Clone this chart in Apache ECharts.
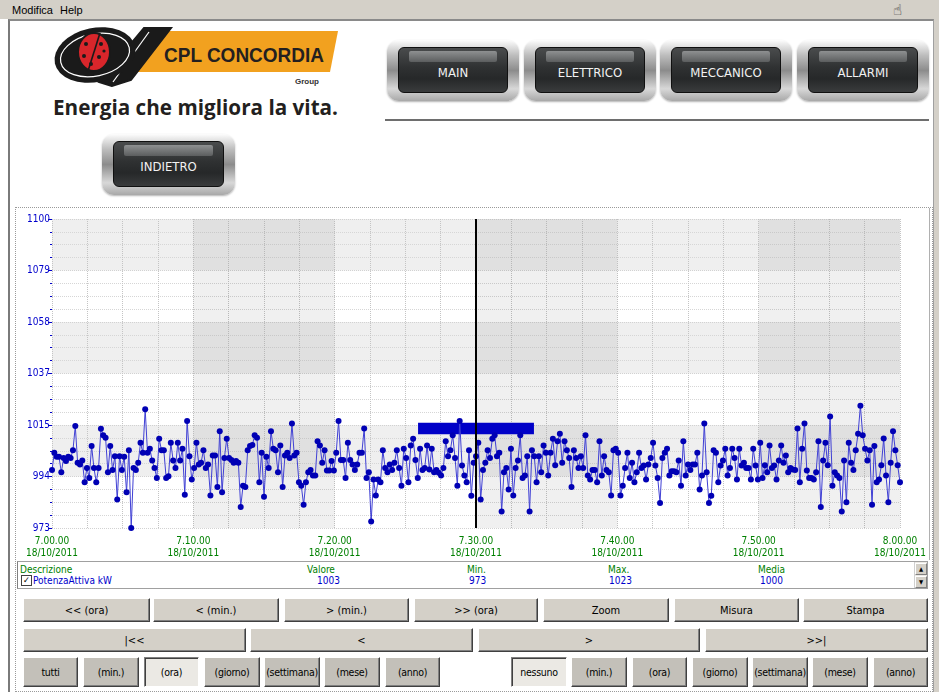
<!DOCTYPE html>
<html><head><meta charset="utf-8">
<script src="https://cdn.jsdelivr.net/npm/echarts@6/dist/echarts.min.js"></script>
<style>
html,body{margin:0;padding:0;}
body{width:939px;height:692px;position:relative;overflow:hidden;background:#ffffff;font-family:"DejaVu Sans Condensed","Liberation Sans Narrow","Liberation Sans",sans-serif;}
#menubar{position:absolute;left:0;top:0;width:939px;height:19px;background:#d4d0c8;font-size:11px;}
#menubar span{position:absolute;top:4px;color:#000;font-family:"Liberation Sans",sans-serif;font-size:11px;}
#frame{position:absolute;left:8px;top:19px;width:926px;height:673px;background:#fff;border-left:2px solid #7a7a7a;border-top:2px solid #8a8a8a;border-right:1px solid #a0a0a0;box-sizing:border-box;}
#rightstrip{position:absolute;left:934px;top:19px;width:5px;height:673px;background:#d4d0c8;}
.abs{position:absolute;}
.mbtn{position:absolute;border-radius:12px;background:linear-gradient(180deg,#fdfdfd 0%,#bdbdbd 25%,#8c8c8c 50%,#d8d8d8 80%,#a8a8a8 100%);box-shadow:0 1px 2px rgba(0,0,0,0.3);}
.mbtn .in{position:absolute;left:11px;right:11px;top:7px;bottom:8px;border-radius:6px;background:linear-gradient(180deg,#4a4c4d 0%,#2f3132 45%,#262829 70%,#3a3c3d 100%);border:1px solid #101010;}
.mbtn .hl{position:absolute;left:10px;right:10px;top:3px;height:11px;border-radius:2px;background:linear-gradient(180deg,#8e9091 0%,#5c5e5f 100%);}
.mbtn .tx{position:absolute;left:0;right:0;top:0;bottom:0;display:flex;align-items:center;justify-content:center;color:#f2f2f2;font-family:"DejaVu Sans Condensed","Liberation Sans",Arial,sans-serif;font-size:13px;padding-top:4px;}
.gbtn{position:absolute;box-sizing:border-box;background:#d4d0c8;border:1px solid;border-color:#ffffff #404040 #404040 #ffffff;box-shadow:inset -1px -1px 0 #808080;display:flex;align-items:center;justify-content:center;font-size:11px;color:#000;white-space:nowrap;}
.sbtn{background:#c3c0b9;font-size:10.5px;letter-spacing:-0.3px;}
.pbtn{background:#ebe9e4;border-color:#808080 #ffffff #ffffff #808080;box-shadow:inset 1px 1px 0 #404040;font-size:10.5px;letter-spacing:-0.3px;}
#chartpanel{position:absolute;left:15px;top:207px;width:918px;height:485px;border:1px dotted #9a9a9a;box-sizing:border-box;background:#fff;}
#chart{position:absolute;left:15px;top:208px;width:917px;height:352px;}
#table{position:absolute;left:17px;top:561px;width:911px;height:28px;border:1px solid #a0a0a0;border-left-color:#808080;box-sizing:border-box;background:#fff;font-size:10px;}
#table .h{position:absolute;top:2px;color:#008000;}
#table .v{position:absolute;top:13px;color:#0000cc;}
</style></head>
<body>
<div id="menubar"><span style="left:12px">Modifica</span><span style="left:60px">Help</span>
<span style="left:893px;top:1px;font-family:'DejaVu Sans',sans-serif;font-size:15px;color:#222">&#9757;</span></div>
<div id="frame"></div>
<div id="rightstrip"></div>

<svg class="abs" style="left:0;top:0" width="400" height="130" viewBox="0 0 400 130">
  <polygon points="146,31 338,31 330,72 136,72" fill="#f2a11f"/>
  <path d="M112,86 L99,82 L144,28 L171,28 L131,80 Z" fill="#1a1a1a" stroke="#1a1a1a" stroke-width="2"/>
  <path d="M113,82 L149,32" stroke="#ffffff" stroke-width="1.2" fill="none"/>
  <ellipse cx="95" cy="55" rx="41" ry="27" fill="#1a1a1a" transform="rotate(-12 95 55)"/>
  <ellipse cx="95" cy="55" rx="35" ry="21" fill="none" stroke="#ffffff" stroke-width="1.2" transform="rotate(-12 95 55)"/>
  <ellipse cx="94" cy="52" rx="16" ry="19" fill="#d9262b" stroke="#1a1a1a" stroke-width="2"/>
  <line x1="100" y1="33" x2="88" y2="71" stroke="#1a1a1a" stroke-width="1.6"/>
  <circle cx="86" cy="44" r="2" fill="#1a1a1a"/><circle cx="101" cy="44" r="2" fill="#1a1a1a"/>
  <circle cx="84" cy="56" r="2" fill="#1a1a1a"/><circle cx="99" cy="57" r="2" fill="#1a1a1a"/>
  <circle cx="91" cy="64" r="2" fill="#1a1a1a"/><circle cx="104" cy="51" r="1.6" fill="#1a1a1a"/>
  <text x="164" y="62" font-family="Liberation Sans, Arial, sans-serif" font-weight="bold" font-size="20" fill="#231f20" textLength="160" lengthAdjust="spacingAndGlyphs">CPL CONCORDIA</text>
  <text x="295" y="84" font-family="Liberation Sans, Arial, sans-serif" font-weight="bold" font-size="8" fill="#333">Group</text>
  <text x="53" y="115" font-family="Open Sans, sans-serif" font-weight="bold" font-size="22" fill="#231f20" textLength="285" lengthAdjust="spacingAndGlyphs">Energia che migliora la vita.</text>
</svg>

<div class="mbtn" style="left:387px;top:40px;width:132px;height:61px"><div class="in"><div class="hl"></div></div><div class="tx">MAIN</div></div>
<div class="mbtn" style="left:524px;top:40px;width:132px;height:61px"><div class="in"><div class="hl"></div></div><div class="tx">ELETTRICO</div></div>
<div class="mbtn" style="left:660px;top:40px;width:132px;height:61px"><div class="in"><div class="hl"></div></div><div class="tx">MECCANICO</div></div>
<div class="mbtn" style="left:797px;top:40px;width:132px;height:61px"><div class="in"><div class="hl"></div></div><div class="tx">ALLARMI</div></div>
<div class="abs" style="left:385px;top:119px;width:544px;height:2px;background:#6e6e6e"></div>
<div class="mbtn" style="left:102px;top:134px;width:133px;height:61px"><div class="in"><div class="hl"></div></div><div class="tx">INDIETRO</div></div>

<div id="chartpanel"></div>
<div class="abs" style="left:929px;top:208px;width:1px;height:352px;background:#b0b0b0"></div>
<div id="chart"></div>

<div id="table">
  <div class="h" style="left:2px">Descrizione</div>
  <div class="abs" style="left:3px;top:13px;width:9px;height:9px;border:1px solid #404040;background:#fff;font-size:9px;line-height:9px;text-align:center;color:#000">&#10003;</div>
  <div class="v" style="left:15px">PotenzaAttiva kW</div>
  <div class="h" style="left:289px">Valore</div><div class="v" style="left:299px">1003</div>
  <div class="h" style="left:449px">Min.</div><div class="v" style="left:451px">973</div>
  <div class="h" style="left:590px">Max.</div><div class="v" style="left:591px">1023</div>
  <div class="h" style="left:740px">Media</div><div class="v" style="left:742px">1000</div>
  <div class="abs" style="left:896px;top:0px;width:12px;height:26px;background:#ece9e4;border-left:1px solid #d0d0d0"></div>
  <div class="abs" style="left:897px;top:1px;width:10px;height:10px;background:#d4d0c8;border:1px solid #fff;border-right-color:#808080;border-bottom-color:#808080;font-size:6px;line-height:10px;text-align:center">&#9650;</div>
  <div class="abs" style="left:897px;top:14px;width:10px;height:10px;background:#d4d0c8;border:1px solid #fff;border-right-color:#808080;border-bottom-color:#808080;font-size:6px;line-height:10px;text-align:center">&#9660;</div>
</div>

<div class="gbtn" style="left:23px;top:598px;width:127px;height:24px">&lt;&lt; (ora)</div>
<div class="gbtn" style="left:153px;top:598px;width:126px;height:24px">&lt; (min.)</div>
<div class="gbtn" style="left:284px;top:598px;width:125px;height:24px">&gt; (min.)</div>
<div class="gbtn" style="left:414px;top:598px;width:124px;height:24px">&gt;&gt; (ora)</div>
<div class="gbtn" style="left:543px;top:598px;width:126px;height:24px">Zoom</div>
<div class="gbtn" style="left:674px;top:598px;width:125px;height:24px">Misura</div>
<div class="gbtn" style="left:803px;top:598px;width:125px;height:24px">Stampa</div>

<div class="gbtn" style="left:23px;top:628px;width:223px;height:24px">|&lt;&lt;</div>
<div class="gbtn" style="left:250px;top:628px;width:223px;height:24px">&lt;</div>
<div class="gbtn" style="left:478px;top:628px;width:222px;height:24px">&gt;</div>
<div class="gbtn" style="left:705px;top:628px;width:223px;height:24px">&gt;&gt;|</div>

<div class="gbtn sbtn" style="left:23px;top:657px;width:55px;height:30px">tutti</div>
<div class="gbtn sbtn" style="left:83px;top:657px;width:56px;height:30px">(min.)</div>
<div class="gbtn pbtn" style="left:144px;top:657px;width:55px;height:30px">(ora)</div>
<div class="gbtn sbtn" style="left:204px;top:657px;width:56px;height:30px">(giorno)</div>
<div class="gbtn sbtn" style="left:264px;top:657px;width:56px;height:30px">(settimana)</div>
<div class="gbtn sbtn" style="left:324px;top:657px;width:56px;height:30px">(mese)</div>
<div class="gbtn sbtn" style="left:385px;top:657px;width:55px;height:30px">(anno)</div>
<div class="gbtn pbtn" style="left:511px;top:657px;width:56px;height:30px">nessuno</div>
<div class="gbtn sbtn" style="left:571px;top:657px;width:56px;height:30px">(min.)</div>
<div class="gbtn sbtn" style="left:632px;top:657px;width:55px;height:30px">(ora)</div>
<div class="gbtn sbtn" style="left:692px;top:657px;width:56px;height:30px">(giorno)</div>
<div class="gbtn sbtn" style="left:752px;top:657px;width:56px;height:30px">(settimana)</div>
<div class="gbtn sbtn" style="left:812px;top:657px;width:56px;height:30px">(mese)</div>
<div class="gbtn sbtn" style="left:873px;top:657px;width:55px;height:30px">(anno)</div>

<script>
// ---- data (PotenzaAttiva kW, 18/10/2011, 7.00.00 -> 8.00.00) ----
const potenza_0700 = [996.8,1003.9,1002.3,1002.3,995.9,1001.8,1000.5,1002.3,1001.8,1005.0,1014.9,999.8,999.1,1000.7,991.8,997.7,993.6,1006.7,997.7,991.8,997.7,1013.8,1011.1,1010.1,995.9,1006.7,996.8,1002.5,984.7,1002.5,996.8,1002.3,987.7,1005.0,973.0,997.7,996.8,999.8,1008.0,1003.9,1021.8,1003.9,1005.6,1000.7,997.7,993.6,1009.7,1005.0,1005.0,993.6,994.3,1008.0,1000.7,997.7,1008.0,1000.7,1005.6,986.7,1017.0,1002.5];
const potenza_0710 = [992.9,997.7,1008.0,999.1,999.8,1005.0,997.7,999.1,986.4,1002.8,1002.8,989.9,1012.8,987.7,1001.8,1009.7,1001.8,1000.9,999.8,1000.5,999.8,981.6,990.4,989.9,1005.0,1006.7,1007.1,1011.1,1010.1,991.8,1003.9,985.8,1002.3,997.7,1012.8,1005.6,1005.0,995.9,1006.9,989.9,1002.8,1003.9,1001.8,1015.9,1002.8,1003.9,991.8,990.4,982.6,991.8,995.9,996.8,994.6,994.6,1008.7,1006.9,999.8,1005.0,996.6,996.6,1000.5,996.6,1003.9];
const potenza_0720 = [1017.0,1000.9,1000.9,993.6,1008.0,1000.9,999.1,996.8,999.1,1003.9,1003.9,1013.9,993.6,995.9,975.7,992.9,986.4,992.9,991.8,1005.0,997.7,995.9,999.1,996.8,999.8,1005.0,997.7,990.4,1005.6,1001.8,991.8,1006.9,1009.7,1000.9,993.6,1005.6,996.8,997.7,1006.9,997.0,1005.6,995.9,996.8,995.7,994.6,997.7,1008.7,1002.5,1005.0,1011.1,1001.8,990.4,1017.0,998.7,994.6,991.8,1005.0,986.3,999.8,1002.5];
const potenza_0730 = [1008.0,984.7,996.8,999.8,1005.0,1001.8,1009.7,1011.1,1002.5,1003.9,979.8,995.9,997.7,988.8,1005.6,986.4,997.7,1000.7,1011.1,993.6,994.6,1002.5,979.8,1005.0,1002.5,991.8,1002.5,995.9,1006.9,1003.9,994.6,1003.9,1009.7,998.8,1008.7,1011.7,999.8,1008.7,1005.0,1001.8,989.9,1005.0,1001.8,997.7,1002.5,997.7,1011.1,994.6,992.9,996.8,996.8,991.8,1008.7,994.6,1002.5,996.8,995.9,986.4,1005.0];
const potenza_0740 = [1005.6,1003.9,986.4,990.4,997.7,1003.9,993.6,999.8,991.8,995.9,1003.9,997.7,998.7,992.9,999.1,1001.8,1008.0,998.7,993.6,983.3,1001.8,1003.9,1005.6,994.6,996.3,996.3,995.9,1000.7,990.4,1008.7,994.6,999.1,996.8,999.1,999.1,1003.9,988.8,994.6,1015.9,995.9,983.3,986.3,1005.0,1003.9,991.8,998.7,1000.7,1005.6,994.6,997.7,1005.6,1001.8,992.9,1005.6,998.7,999.8,997.7,997.7,992.9,1005.6,998.7,992.9,1008.0];
const potenza_0750 = [993.6,998.8,995.9,1006.9,997.7,998.7,992.9,1000.7,1006.9,999.8,1002.8,995.9,997.7,997.0,996.8,1013.9,991.8,1005.6,1015.9,996.6,993.6,993.6,992.9,995.9,1008.7,981.6,1000.7,1008.0,998.8,1018.8,990.4,995.9,994.6,993.6,979.8,1000.7,983.6,1008.0,999.8,996.8,1005.0,1011.7,1023.2,1011.1,1005.6,1000.7,1005.0,982.6,1006.7,991.8,992.9,998.8,1009.8,994.6,983.6,999.8,1012.8,1005.0,998.8,991.8];

const xTickLabels = ['7.00.00','7.10.00','7.20.00','7.30.00','7.40.00','7.50.00','8.00.00'];
const dateLabel = '18/10/2011';
const yTickLabels = ['973','994','1015','1037','1058','1079','1100'];
const yMin = 973, yMax = 1100;
const cursorMinute = 30;
const cursorBox = {x0: 25.9, x1: 34.1, y0: 1011.5, y1: 1016.3};
const shadedColumns = [[10,20],[30,40],[50,60]];

const values = [].concat(potenza_0700, potenza_0710, potenza_0720, potenza_0730, potenza_0740, potenza_0750);
const seriesData = values.map((v, i) => [i * 60 / (values.length - 1), v]);

const chart = echarts.init(document.getElementById('chart'), null, {renderer: 'canvas'});
const labelFont = '"DejaVu Sans Condensed","Liberation Sans Narrow","Liberation Sans",sans-serif';
chart.setOption({
  animation: false,
  backgroundColor: 'transparent',
  grid: {left: 37, right: 32, top: 11, bottom: 32, show: false},
  xAxis: {
    type: 'value', min: 0, max: 60, interval: 2.5,
    axisLine: {show: false}, axisTick: {show: false},
    splitLine: {show: true, lineStyle: {color: '#c4c4c4', type: [1, 1], width: 1}},
    axisLabel: {
      margin: 7, color: '#008000', fontSize: 10, fontFamily: labelFont, lineHeight: 12,
      showMinLabel: true, showMaxLabel: true, hideOverlap: false,
      formatter: function (v) {
        const r = Math.round(v * 10) / 10;
        if (Math.abs(r % 10) > 1e-6) return '';
        return xTickLabels[Math.round(r / 10)] + '\n' + dateLabel;
      }
    }
  },
  yAxis: {
    type: 'value', min: yMin, max: yMax, interval: (yMax - yMin) / 6,
    axisLine: {show: false},
    axisTick: {show: true, length: 4, lineStyle: {color: '#0000cc'}},
    minorTick: {show: true, splitNumber: 4, length: 2, lineStyle: {color: '#0000cc'}},
    axisLabel: {
      margin: 2, color: '#0000cc', fontSize: 10, fontFamily: labelFont,
      formatter: function (v) {
        const k = Math.round((v - yMin) / ((yMax - yMin) / 6));
        return yTickLabels[k] !== undefined ? yTickLabels[k] : String(Math.round(v));
      }
    },
    splitLine: {show: true, lineStyle: {color: '#d2d2d2', type: [1, 1]}},
    minorSplitLine: {show: true, lineStyle: {color: '#d6d6d6', type: [1, 1]}},
    splitArea: {show: true, areaStyle: {color: ['#ffffff', '#efefef']}}
  },
  series: [
    {
      type: 'line', z: 1, data: [], silent: true,
      markArea: {
        silent: true, itemStyle: {color: 'rgba(0,0,0,0.06)'},
        data: shadedColumns.map(c => [{xAxis: c[0]}, {xAxis: c[1]}])
      }
    },
    {
      name: 'PotenzaAttiva kW', type: 'line', z: 3, data: seriesData,
      symbol: 'circle', symbolSize: 6, showSymbol: true,
      lineStyle: {color: '#4040d4', width: 1},
      itemStyle: {color: '#0000b4'}
    },
    {
      type: 'line', z: 10, data: [], silent: true,
      markLine: {
        silent: true, symbol: ['none', 'none'], label: {show: false},
        lineStyle: {color: '#000000', width: 2, type: 'solid'},
        data: [{xAxis: cursorMinute}]
      },
      markArea: {
        silent: true,
        data: [
          [{xAxis: cursorBox.x0, yAxis: cursorBox.y0, itemStyle: {color: '#0000c8'}}, {xAxis: cursorBox.x1, yAxis: cursorBox.y1}],
          [{xAxis: 30.05, yAxis: 1006.4, itemStyle: {color: '#e6e600'}}, {xAxis: 30.2, yAxis: 1008.2}]
        ]
      }
    }
  ]
});
</script>
</body></html>
